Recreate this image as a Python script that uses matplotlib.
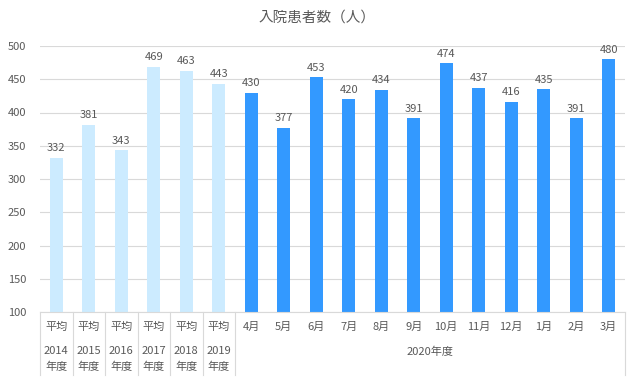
import matplotlib
matplotlib.use('Agg')
import matplotlib.pyplot as plt
import matplotlib.transforms as mtrans
import numpy as np

plt.rcParams['font.family'] = ['Noto Sans CJK JP', 'DejaVu Sans']

# data
year_labels = ['2014', '2015', '2016', '2017', '2018', '2019']
year_values = [332, 381, 343, 469, 463, 443]
month_labels = ['4月', '5月', '6月', '7月', '8月', '9月', '10月', '11月', '12月', '1月', '2月', '3月']
month_values = [430, 377, 453, 420, 434, 391, 474, 437, 416, 435, 391, 480]

light = '#CCEBFF'
dark = '#3399FF'
txt = '#595959'
grid = '#D9D9D9'
fs = 8

values = year_values + month_values
colors = [light] * len(year_values) + [dark] * len(month_values)
x = np.arange(len(values))

fig = plt.figure(figsize=(6.34, 3.8), dpi=100)
ax = fig.add_axes([40/634, 1-312/380, 585/634, 266/380])

ax.bar(x, [v - 100 for v in values], bottom=100, width=0.4, color=colors, zorder=2)
for xi, v in zip(x, values):
    ax.text(xi, v + 7, str(v), ha='center', va='bottom', fontsize=fs, color=txt)

ax.set_xlim(-0.5, len(values) - 0.5)
ax.set_ylim(100, 500)
ax.set_yticks(range(100, 501, 50))
ax.yaxis.grid(True, color=grid, lw=0.8, zorder=0)
ax.tick_params(axis='y', length=0, labelsize=fs, labelcolor=txt, pad=10)
ax.tick_params(axis='x', length=0, labelbottom=False)
for s in ['top', 'right', 'left']:
    ax.spines[s].set_visible(False)
ax.spines['bottom'].set_color(grid)

tr = mtrans.blended_transform_factory(ax.transData, ax.transAxes)
px = 1 / 266  # one pixel in axes fraction (vertical)

# category separators
seps = [i - 0.5 for i in range(len(year_values) + 1)] + [len(values) - 0.5]
for s in seps:
    ax.plot([s, s], [0, -63 * px], transform=tr, color=grid, lw=0.8, clip_on=False)

for i, lab in enumerate(year_labels):
    ax.text(i, -15 * px, '平均', transform=tr, ha='center', va='center', fontsize=fs, color=txt)
    ax.text(i, -39 * px, lab, transform=tr, ha='center', va='center', fontsize=fs, color=txt)
    ax.text(i, -55 * px, '年度', transform=tr, ha='center', va='center', fontsize=fs, color=txt)

off = len(year_labels)
for j, lab in enumerate(month_labels):
    ax.text(off + j, -15 * px, lab, transform=tr, ha='center', va='center', fontsize=fs, color=txt)
ax.text(off + (len(month_labels) - 1) / 2, -40 * px, '2020年度', transform=tr,
        ha='center', va='center', fontsize=fs, color=txt)

fig.text(317/634, 1 - 18/380, '入院患者数（人）', ha='center', va='center', fontsize=10.5, color=txt)

fig.savefig('out.png', dpi=100)
